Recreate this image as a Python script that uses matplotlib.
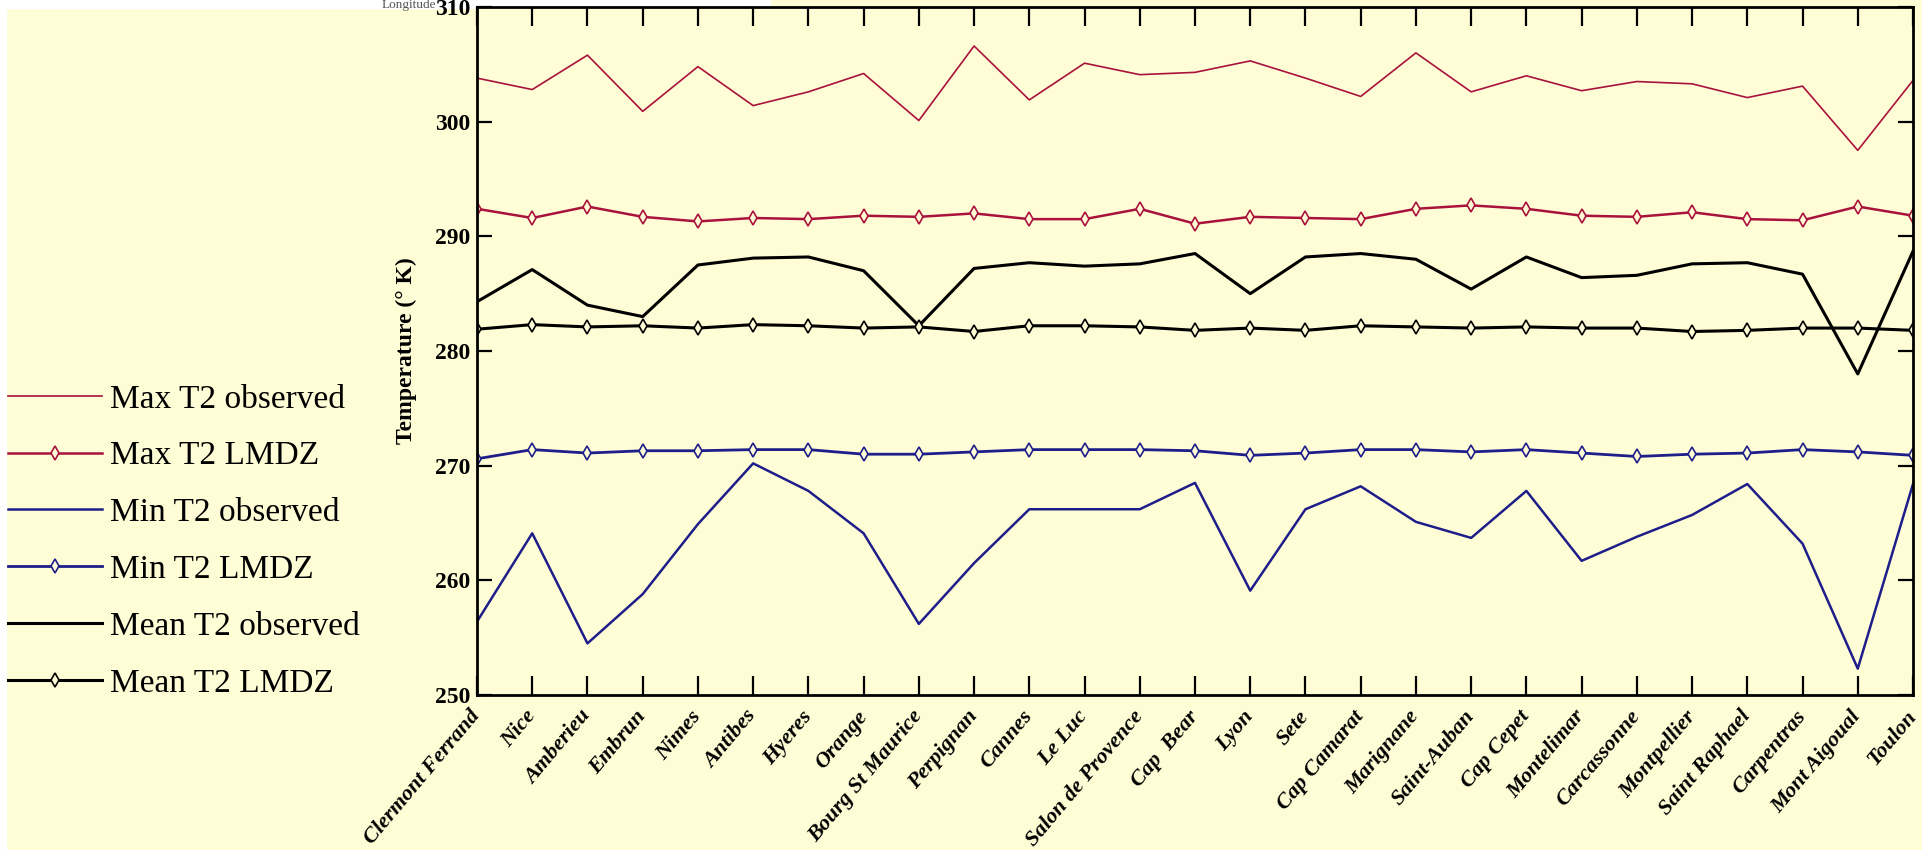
import matplotlib.pyplot as plt
import matplotlib.patches as mpatches
import matplotlib.transforms as mtrans
import numpy as np

# stations along the x axis
stations = ["Clermont Ferrand", "Nice", "Amberieu", "Embrun", "Nimes", "Antibes",
            "Hyeres", "Orange", "Bourg St Maurice", "Perpignan", "Cannes", "Le Luc",
            "Salon de Provence", "Cap  Bear", "Lyon", "Sete", "Cap Camarat", "Marignane",
            "Saint-Auban", "Cap Cepet", "Montelimar", "Carcassonne", "Montpellier",
            "Saint Raphael", "Carpentras", "Mont Aigoual", "Toulon"]

# temperatures (K)
max_obs = [303.8, 302.8, 305.8, 300.9, 304.8, 301.4, 302.6, 304.2, 300.1, 306.6,
           301.9, 305.1, 304.1, 304.3, 305.3, 303.8, 302.2, 306.0, 302.6, 304.0,
           302.7, 303.5, 303.3, 302.1, 303.1, 297.5, 303.6]
max_lmdz = [292.4, 291.6, 292.6, 291.7, 291.3, 291.6, 291.5, 291.8, 291.7, 292.0,
            291.5, 291.5, 292.4, 291.1, 291.7, 291.6, 291.5, 292.4, 292.7, 292.4,
            291.8, 291.7, 292.1, 291.5, 291.4, 292.6, 291.8]
min_obs = [256.4, 264.1, 254.5, 258.8, 264.9, 270.2, 267.8, 264.1, 256.2, 261.5,
           266.2, 266.2, 266.2, 268.5, 259.1, 266.2, 268.2, 265.1, 263.7, 267.8,
           261.7, 263.8, 265.7, 268.4, 263.2, 252.3, 268.4]
min_lmdz = [270.6, 271.4, 271.1, 271.3, 271.3, 271.4, 271.4, 271.0, 271.0, 271.2,
            271.4, 271.4, 271.4, 271.3, 270.9, 271.1, 271.4, 271.4, 271.2, 271.4,
            271.1, 270.8, 271.0, 271.1, 271.4, 271.2, 270.9]
mean_obs = [284.3, 287.1, 284.0, 283.0, 287.5, 288.1, 288.2, 287.0, 282.2, 287.2,
            287.7, 287.4, 287.6, 288.5, 285.0, 288.2, 288.5, 288.0, 285.4, 288.2,
            286.4, 286.6, 287.6, 287.7, 286.7, 278.0, 288.7]
mean_lmdz = [281.9, 282.3, 282.1, 282.2, 282.0, 282.3, 282.2, 282.0, 282.1, 281.7,
             282.2, 282.2, 282.1, 281.8, 282.0, 281.8, 282.2, 282.1, 282.0, 282.1,
             282.0, 282.0, 281.7, 281.8, 282.0, 282.0, 281.8]
y_ticks = [250, 260, 270, 280, 290, 300, 310]

bg = '#FFFDD6'
red = '#A8123C'
blue = '#1E1E8A'
serif = ['Liberation Serif', 'DejaVu Serif']

fig = plt.figure(figsize=(19.22, 8.5), dpi=100, facecolor=bg)
ax = fig.add_axes([477 / 1922, 1 - 695 / 850, (1913 - 477) / 1922, (695 - 7) / 850])
ax.set_facecolor(bg)

x = np.arange(len(stations))
mk = dict(marker='d', markersize=7, markerfacecolor=bg, markeredgewidth=1.2)

ax.plot(x, max_obs, color=red, lw=1.2, label='Max T2 observed')
ax.plot(x, max_lmdz, color=red, lw=1.8, label='Max T2 LMDZ', **mk)
ax.plot(x, min_obs, color=blue, lw=1.8, label='Min T2 observed')
ax.plot(x, min_lmdz, color=blue, lw=2.0, label='Min T2 LMDZ', **mk)
ax.plot(x, mean_obs, color='black', lw=2.2, label='Mean T2 observed')
ax.plot(x, mean_lmdz, color='black', lw=2.2, label='Mean T2 LMDZ', **mk)

ax.set_xlim(0, len(stations) - 1)
ax.set_ylim(y_ticks[0], y_ticks[-1])
ax.set_yticks(y_ticks)
# the top label is drawn separately, a little lower, so the figure edge does not cut it
ax.set_yticklabels([str(v) for v in y_ticks[:-1]] + [''], family=serif,
                   fontweight='bold', fontsize=17)
ax.text(0, y_ticks[-1], str(y_ticks[-1]), family=serif, fontweight='bold', fontsize=17,
        ha='right', va='center', clip_on=False,
        transform=ax.transData + mtrans.ScaledTranslation(-7 / 100, -2 / 100,
                                                          fig.dpi_scale_trans))
ax.set_xticks(x)
ax.set_xticklabels(stations, rotation=50, ha='right', va='center', rotation_mode='anchor',
                   family=serif, fontweight='bold', style='italic', fontsize=16)

ax.tick_params(axis='both', direction='in', top=True, right=True, width=1.6,
               color='black')
ax.tick_params(axis='x', pad=13, length=13.5)
ax.tick_params(axis='y', pad=5, length=11)
for s in ax.spines.values():
    s.set_linewidth(2)

ax.set_ylabel('Temperature (° K)', family=serif, fontweight='bold', fontsize=17, labelpad=13)

# legend on the left side of the figure
ax.legend(loc='upper left', bbox_to_anchor=(8 / 1922, 1 - 384 / 850),
          bbox_transform=fig.transFigure, frameon=False, numpoints=1,
          prop={'family': serif, 'size': 24}, handlelength=2.82, handletextpad=0.24,
          labelspacing=0.79, borderaxespad=0, borderpad=0)

# white strip at the top (behind the axes) with the small "Longitude" caption
fig.patches.append(mpatches.Rectangle((0, 1 - 8 / 850), 770 / 1922, 8 / 850,
                                      transform=fig.transFigure, color='white', zorder=-1))
fig.patches.append(mpatches.Rectangle((0, 0), 6 / 1922, 1,
                                      transform=fig.transFigure, color='white', zorder=-1))
fig.text(382 / 1922, 1 - 8 / 850, 'Longitude', family=serif, fontsize=9.5, color='#555555',
         va='baseline', ha='left')

fig.savefig('out.png', dpi=100, facecolor=bg)
